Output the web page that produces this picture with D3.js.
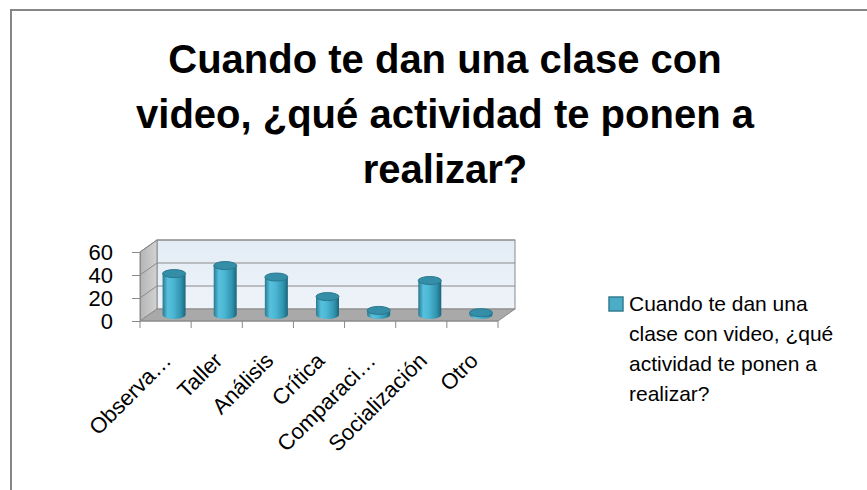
<!DOCTYPE html>
<html>
<head>
<meta charset="utf-8">
<script src="https://cdn.jsdelivr.net/npm/d3@7"></script>
<style>
  body { margin: 0; background: #fff; }
  text { font-family: 'Liberation Sans', Arial, sans-serif; }
</style>
</head>
<body>
<svg id="chart" width="867" height="490"></svg>
<script>
var categories = ['Observa…', 'Taller', 'Análisis', 'Crítica', 'Comparaci…', 'Socialización', 'Otro'],
    values = [36, 43, 33, 16, 4, 30, 2],
    yTicks = [0, 20, 40, 60],
    titleLines = ['Cuando te dan una clase con', 'video, ¿qué actividad te ponen a', 'realizar?'],
    legendLines = ['Cuando te dan una', 'clase con video, ¿qué', 'actividad te ponen a', 'realizar?'];

var svg = d3.select('#chart'),
    depthX = 17,   // 3d depth offset
    depthY = -12,
    x, y;

var defs = svg.append('defs');

var cyl = defs.append('linearGradient').attr('id', 'cyl').attr('x1', 0).attr('x2', 1).attr('y1', 0).attr('y2', 0);
[['0%', '#2a7990'], ['22%', '#56c0dd'], ['45%', '#4db8d5'], ['80%', '#2f93ae'], ['100%', '#1d6479']]
  .forEach(function(s) { cyl.append('stop').attr('offset', s[0]).attr('stop-color', s[1]); });

var wall = defs.append('linearGradient').attr('id', 'wall').attr('x1', 0).attr('x2', 0).attr('y1', 0).attr('y2', 1);
wall.append('stop').attr('offset', '0%').attr('stop-color', '#e3ecf5');
wall.append('stop').attr('offset', '100%').attr('stop-color', '#eef3f9');

var side = defs.append('linearGradient').attr('id', 'side').attr('x1', 0).attr('x2', 1).attr('y1', 0).attr('y2', 0);
side.append('stop').attr('offset', '0%').attr('stop-color', '#b4b4b4');
side.append('stop').attr('offset', '100%').attr('stop-color', '#d2d2d2');

// chart border
svg.append('rect')
   .attr('x', 11).attr('y', 10)
   .attr('width', 900).attr('height', 520)
   .attr('fill', '#fff')
   .attr('stroke', '#868686')
   .attr('stroke-width', 2);

// title
svg.append('g')
   .selectAll('text')
   .data(titleLines)
   .enter().append('text')
     .attr('x', 445)
     .attr('y', function(d, i) { return 73 + i * 55; })
     .attr('text-anchor', 'middle')
     .attr('font-size', 40)
     .attr('font-weight', 'bold')
     .attr('fill', '#000')
     .text(function(d) { return d; });

x = d3.scaleBand()
      .domain(categories)
      .range([140, 498]);

y = d3.scaleLinear()
      .domain([0, 60])
      .range([321, 252]);

var plot = svg.append('g');
var y0 = y(0), yTop = y(d3.max(yTicks)),
    xl = x.range()[0], xr = x.range()[1];

// back wall
plot.append('rect')
    .attr('x', xl + depthX).attr('y', yTop + depthY)
    .attr('width', xr - xl).attr('height', y0 - yTop)
    .attr('fill', 'url(#wall)')
    .attr('stroke', '#8a8a8a');

// side wall
plot.append('path')
    .attr('d', 'M' + xl + ',' + y0 + 'L' + xl + ',' + yTop + 'L' + (xl + depthX) + ',' + (yTop + depthY) +
               'L' + (xl + depthX) + ',' + (y0 + depthY) + 'Z')
    .attr('fill', 'url(#side)')
    .attr('stroke', '#8a8a8a');

// floor
plot.append('path')
    .attr('d', 'M' + xl + ',' + y0 + 'L' + xr + ',' + y0 + 'L' + (xr + depthX) + ',' + (y0 + depthY) +
               'L' + (xl + depthX) + ',' + (y0 + depthY) + 'Z')
    .attr('fill', '#a9a9a9')
    .attr('stroke', '#8a8a8a');

// gridlines (side wall + back wall)
var grid = plot.append('g').attr('stroke', '#8a8a8a').attr('fill', 'none');
yTicks.filter(function(t) { return t > 0; }).forEach(function(t) {
  grid.append('path')
      .attr('d', 'M' + xl + ',' + y(t) + 'L' + (xl + depthX) + ',' + (y(t) + depthY) +
                 'L' + (xr + depthX) + ',' + (y(t) + depthY));
});

// y axis
var yAxis = plot.append('g')
    .attr('transform', 'translate(' + xl + ',0)')
    .call(d3.axisLeft(y).tickValues(yTicks).tickSize(8).tickSizeOuter(0).tickPadding(19));
yAxis.select('.domain').attr('stroke', '#8a8a8a');
yAxis.selectAll('.tick line').attr('stroke', '#8a8a8a');
yAxis.selectAll('.tick text')
     .attr('font-family', "'Liberation Sans', Arial, sans-serif")
     .attr('font-size', 22)
     .attr('fill', '#000');

// x axis line + ticks at category boundaries
var bounds = categories.map(function(c) { return x(c); }).concat([xr]);
plot.append('line')
    .attr('x1', xl).attr('x2', xr).attr('y1', y0).attr('y2', y0)
    .attr('stroke', '#8a8a8a');
plot.append('g')
    .selectAll('line')
    .data(bounds)
    .enter().append('line')
      .attr('x1', function(d) { return d; }).attr('x2', function(d) { return d; })
      .attr('y1', y0).attr('y2', y0 + 7)
      .attr('stroke', '#8a8a8a');

// category labels
plot.append('g')
    .selectAll('text')
    .data(categories)
    .enter().append('text')
      .attr('transform', function(d) {
        return 'translate(' + (x(d) + x.bandwidth() / 2 + 7) + ',' + 362 + ') rotate(-45)';
      })
      .attr('text-anchor', 'end')
      .attr('font-size', 22)
      .attr('fill', '#000')
      .text(function(d) { return d; });

// cylinders
var rx = x.bandwidth() * 0.225, ry = 4;
var bars = plot.append('g')
    .selectAll('g')
    .data(values)
    .enter().append('g');

function cx(i) { return x(categories[i]) + x.bandwidth() / 2 + depthX / 2; }

bars.append('path')
    .attr('d', function(d, i) {
      var c = cx(i), yb = y0 + depthY / 2, yt = y(d) + depthY / 2;
      return 'M' + (c - rx) + ',' + yt + 'L' + (c - rx) + ',' + yb +
             'A' + rx + ',' + ry + ' 0 0 0 ' + (c + rx) + ',' + yb +
             'L' + (c + rx) + ',' + yt + 'Z';
    })
    .attr('fill', 'url(#cyl)');

bars.append('ellipse')
    .attr('cx', function(d, i) { return cx(i); })
    .attr('cy', function(d) { return y(d) + depthY / 2; })
    .attr('rx', rx).attr('ry', ry)
    .attr('fill', '#358ea7')
    .attr('stroke', '#2a788f')
    .attr('stroke-width', 1);

// legend
var legend = svg.append('g');
legend.append('rect')
      .attr('x', 609).attr('y', 297)
      .attr('width', 14).attr('height', 14)
      .attr('fill', '#4bacc6')
      .attr('stroke', '#357d91')
      .attr('stroke-width', 1.5);
legend.selectAll('text')
      .data(legendLines)
      .enter().append('text')
        .attr('x', 629)
        .attr('y', function(d, i) { return 311 + i * 30; })
        .attr('font-size', 21)
        .attr('fill', '#000')
        .text(function(d) { return d; });
</script>
</body>
</html>
